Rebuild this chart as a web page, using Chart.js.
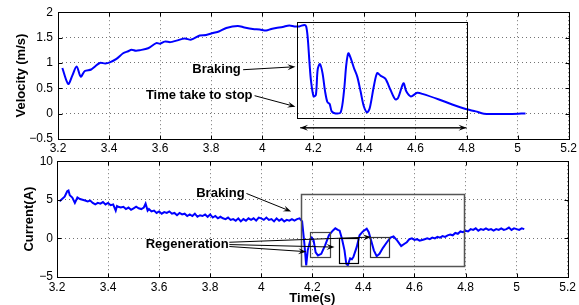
<!DOCTYPE html>
<html>
<head>
<meta charset="utf-8">
<script src="https://cdn.jsdelivr.net/npm/chart.js@4"></script>
<style>
  html, body { margin: 0; padding: 0; background: #fff; overflow: hidden; }
  #wrap { position: relative; width: 579px; height: 305px; }
  canvas { position: absolute; left: 0; }
  #velocityCanvas { top: 0; }
  #currentCanvas { top: 150px; }
</style>
</head>
<body>
<div id="wrap">
  <canvas id="velocityCanvas" width="579" height="160"></canvas>
  <canvas id="currentCanvas" width="579" height="155"></canvas>
</div>
<script>
// tick values
const timeTicks = [3.2, 3.4, 3.6, 3.8, 4, 4.2, 4.4, 4.6, 4.8, 5, 5.2];
const velocityTicks = [-0.5, 0, 0.5, 1, 1.5, 2];
const currentTicks = [-5, 0, 5, 10];

// velocity trace (s, m/s)
const velocityTime = [
  3.217, 3.240, 3.256, 3.273, 3.289, 3.305, 3.33, 3.345, 3.364, 3.385,
  3.403, 3.429, 3.455, 3.475, 3.488, 3.505, 3.52, 3.553, 3.585, 3.60,
  3.618, 3.64, 3.664, 3.696, 3.722, 3.755, 3.78, 3.807, 3.83, 3.859,
  3.904, 3.93, 3.963, 3.99, 4.015, 4.035, 4.054, 4.08, 4.106, 4.126,
  4.145, 4.165, 4.172, 4.178, 4.185, 4.191, 4.201, 4.21, 4.217, 4.226,
  4.236, 4.246, 4.255, 4.264, 4.272, 4.287, 4.307, 4.32, 4.329, 4.337,
  4.346, 4.359, 4.372, 4.385, 4.398, 4.411, 4.421, 4.437, 4.45, 4.463,
  4.482, 4.502, 4.521, 4.532, 4.553, 4.564, 4.582, 4.607, 4.627, 4.692,
  4.744, 4.797, 4.836, 4.868, 4.979, 5.031
];
const velocity = [
  0.90, 0.585, 0.75, 0.93, 0.73, 0.84, 0.87, 0.93, 1.0, 0.99,
  1.01, 1.08, 1.19, 1.23, 1.26, 1.24, 1.25, 1.29, 1.39, 1.38,
  1.42, 1.41, 1.44, 1.48, 1.46, 1.54, 1.55, 1.59, 1.62, 1.69,
  1.73, 1.70, 1.67, 1.66, 1.64, 1.67, 1.69, 1.71, 1.74, 1.72,
  1.72, 1.75, 1.72, 1.50, 1.0, 0.64, 0.34, 0.37, 0.87, 0.98,
  0.80, 0.44, 0.23, 0.19, 0.045, 0.005, 0.025, 0.44, 0.96, 1.19,
  1.10, 0.90, 0.73, 0.44, 0.14, 0.025, 0.11, 0.54, 0.80, 0.75,
  0.69, 0.47, 0.28, 0.31, 0.60, 0.44, 0.34, 0.41, 0.39, 0.28,
  0.18, 0.09, 0.045, 0.0, -0.005, 0.005
];

// motor current trace (s, A)
const currentTime = [
  3.21, 3.22, 3.23, 3.24, 3.245, 3.25, 3.26, 3.27, 3.28, 3.29,
  3.30, 3.31, 3.32, 3.33, 3.34, 3.35, 3.36, 3.37, 3.38, 3.39,
  3.40, 3.41, 3.42, 3.43, 3.435, 3.44, 3.45, 3.46, 3.47, 3.48,
  3.49, 3.50, 3.51, 3.52, 3.53, 3.54, 3.547, 3.555, 3.56, 3.57,
  3.58, 3.59, 3.60, 3.61, 3.62, 3.63, 3.64, 3.65, 3.66, 3.67,
  3.68, 3.69, 3.70, 3.71, 3.72, 3.73, 3.74, 3.75, 3.76, 3.77,
  3.78, 3.79, 3.80, 3.81, 3.82, 3.83, 3.84, 3.85, 3.86, 3.87,
  3.88, 3.89, 3.90, 3.91, 3.92, 3.93, 3.94, 3.95, 3.96, 3.97,
  3.98, 3.99, 4.00, 4.01, 4.02, 4.03, 4.04, 4.05, 4.06, 4.07,
  4.08, 4.09, 4.10, 4.11, 4.12, 4.13, 4.14, 4.15, 4.16, 4.169,
  4.176, 4.182, 4.192, 4.198, 4.205, 4.213, 4.222, 4.235, 4.25, 4.265,
  4.28, 4.29, 4.30, 4.307, 4.316, 4.326, 4.333, 4.339, 4.348, 4.355,
  4.361, 4.374, 4.385, 4.398, 4.413, 4.421, 4.43, 4.441, 4.452, 4.463,
  4.476, 4.492, 4.506, 4.518, 4.532, 4.548, 4.561, 4.57, 4.58, 4.59,
  4.60, 4.61, 4.62, 4.63, 4.64, 4.65, 4.66, 4.67, 4.68, 4.69,
  4.70, 4.71, 4.72, 4.73, 4.74, 4.75, 4.76, 4.77, 4.78, 4.79,
  4.80, 4.81, 4.82, 4.83, 4.84, 4.85, 4.86, 4.87, 4.88, 4.89,
  4.90, 4.91, 4.92, 4.93, 4.94, 4.95, 4.96, 4.97, 4.98, 4.99,
  5.00, 5.01, 5.02, 5.03
];
const current = [
  4.8, 5.1, 5.4, 6.1, 6.2, 5.6, 5.3, 4.6, 5.3, 5.1,
  5.0, 4.9, 4.8, 4.9, 4.6, 4.4, 4.6, 4.5, 4.7, 4.4,
  4.6, 4.3, 4.4, 3.6, 4.2, 4.1, 4.0, 4.1, 3.8, 4.0,
  3.7, 3.9, 4.1, 3.9, 3.8, 4.0, 4.5, 3.6, 3.8, 3.5,
  3.6, 3.3, 3.5, 3.2, 3.4, 3.3, 3.5, 3.2, 3.3, 3.0,
  3.3, 3.1, 3.2, 2.9, 3.1, 2.9, 3.2, 2.8, 3.0, 2.9,
  3.1, 2.8, 3.1, 2.7, 2.9, 2.6, 2.8, 2.6, 2.5, 2.7,
  2.4, 2.5, 2.3, 2.6, 2.2, 2.5, 2.3, 2.6, 2.4, 2.6,
  2.3, 2.7, 2.6, 2.4, 2.7, 2.4, 2.5, 2.2, 2.6, 2.3,
  2.5, 2.2, 2.4, 2.3, 2.5, 2.3, 2.5, 2.6, 2.2, -0.7,
  -3.5, -1.55, -0.25, 0.1, -0.25, -1.8, -2.2, -2.0, -0.9, 0.4,
  1.0, 1.3, 1.1, 1.0, -0.05, -1.55, -3.3, -3.5, -2.6, -2.7,
  -2.4, -1.1, 0.4, 0.9, 1.25, 0.8, -0.25, -1.55, -2.3, -2.0,
  -1.25, -0.5, 0.1, 0.25, -0.25, -1.0, -0.7, -0.5, -0.1, 0.0,
  -0.2, -0.1, -0.3, -0.2, -0.1, 0.0, -0.1, 0.1, 0.0, 0.2,
  0.1, 0.3, 0.2, 0.4, 0.5, 0.4, 0.7, 0.6, 0.9, 0.8,
  1.0, 0.9, 1.2, 1.1, 1.3, 1.0, 1.2, 1.1, 1.3, 1.1,
  1.2, 1.0, 1.2, 1.1, 1.3, 1.1, 1.2, 1.4, 1.1, 1.3,
  1.2, 1.1, 1.3, 1.2
];

const fontFamily = '"Liberation Sans", Arial, Helvetica, sans-serif';
Chart.defaults.font.family = fontFamily;
Chart.defaults.font.size = 12;
Chart.defaults.color = '#000';

// annotations, in data units of each plot
const velocityNotes = {
  boxes: [ { x0: 4.1375, x1: 4.805, y0: -0.08, y1: 1.81, color: '#000', width: 1 } ],
  arrows: [
    { x0: 3.925, y0: 0.866, x1: 4.13, y1: 0.925 },
    { x0: 3.97, y0: 0.354, x1: 4.13, y1: 0.138 },
    { x0: 4.148, y0: -0.28, x1: 4.80, y1: -0.28, both: true }
  ],
  labels: [
    { text: 'Braking', x: 3.821, y: 0.866, align: 'center' },
    { text: 'Time take to stop', x: 3.962, y: 0.354, align: 'right' }
  ]
};
const currentNotes = {
  boxes: [
    { x0: 4.154, x1: 4.792, y0: -3.62, y1: 5.69, color: '#555', width: 1.5 },
    { x0: 4.192, x1: 4.27, y0: -2.46, y1: 0.815, color: '#444', width: 1.2 },
    { x0: 4.304, x1: 4.38, y0: -3.2, y1: 0.09, color: '#000', width: 1.2 },
    { x0: 4.424, x1: 4.50, y0: -2.33, y1: 0.22, color: '#333', width: 1.2 }
  ],
  arrows: [
    { x0: 3.942, y0: 5.82, x1: 4.117, y1: 3.49 },
    { x0: 3.875, y0: -1.05, x1: 4.176, y1: -1.72 },
    { x0: 3.875, y0: -0.8, x1: 4.287, y1: -1.13 },
    { x0: 3.875, y0: -0.5, x1: 4.43, y1: 0.17 }
  ],
  labels: [
    { text: 'Braking', x: 3.840, y: 5.82, align: 'center' },
    { text: 'Regeneration', x: 3.71, y: -0.82, align: 'center' }
  ]
};

// black box round the axes with MATLAB style inward ticks
const framePlugin = {
  id: 'frame',
  afterDatasetsDraw(chart) {
    const { ctx, chartArea: a, scales: { x, y } } = chart;
    const l = Math.round(a.left) + 0.5, r = Math.round(a.right) + 0.5;
    const t = Math.round(a.top) + 0.5, b = Math.round(a.bottom) + 0.5;
    ctx.save();
    ctx.strokeStyle = '#000';
    ctx.lineWidth = 1;
    ctx.strokeRect(l, t, r - l, b - t);
    ctx.beginPath();
    x.ticks.forEach(tk => {
      const px = Math.round(x.getPixelForValue(tk.value)) + 0.5;
      ctx.moveTo(px, b); ctx.lineTo(px, b - 4);
      ctx.moveTo(px, t); ctx.lineTo(px, t + 4);
    });
    y.ticks.forEach(tk => {
      const py = Math.round(y.getPixelForValue(tk.value)) + 0.5;
      ctx.moveTo(l, py); ctx.lineTo(l + 4, py);
      ctx.moveTo(r, py); ctx.lineTo(r - 4, py);
    });
    ctx.stroke();
    ctx.restore();
  }
};

function notesPlugin(notes) {
  return {
    id: 'notes',
    afterDraw(chart) {
      const { ctx, scales: { x, y } } = chart;
      const px = v => x.getPixelForValue(v);
      const py = v => y.getPixelForValue(v);
      ctx.save();
      notes.boxes.forEach(bx => {
        ctx.strokeStyle = bx.color;
        ctx.lineWidth = bx.width;
        ctx.strokeRect(Math.round(px(bx.x0)) + 0.5, Math.round(py(bx.y1)) + 0.5,
          Math.round(px(bx.x1) - px(bx.x0)), Math.round(py(bx.y0) - py(bx.y1)));
      });
      notes.arrows.forEach(ar => {
        drawArrow(ctx, px(ar.x0), py(ar.y0), px(ar.x1), py(ar.y1));
        if (ar.both) drawArrow(ctx, px(ar.x1), py(ar.y1), px(ar.x0), py(ar.y0));
      });
      ctx.font = 'bold 13px ' + fontFamily;
      ctx.fillStyle = '#000';
      ctx.textBaseline = 'middle';
      notes.labels.forEach(lb => {
        ctx.textAlign = lb.align;
        ctx.fillText(lb.text, px(lb.x), py(lb.y));
      });
      ctx.restore();
    }
  };
}

function drawArrow(ctx, x0, y0, x1, y1) {
  const ang = Math.atan2(y1 - y0, x1 - x0);
  const len = 8, half = 3;
  ctx.strokeStyle = '#000';
  ctx.fillStyle = '#000';
  ctx.lineWidth = 1;
  ctx.beginPath();
  ctx.moveTo(x0, y0);
  ctx.lineTo(x1 - Math.cos(ang) * len * 0.6, y1 - Math.sin(ang) * len * 0.6);
  ctx.stroke();
  ctx.beginPath();
  ctx.moveTo(x1, y1);
  ctx.lineTo(x1 - Math.cos(ang) * len - Math.sin(ang) * half, y1 - Math.sin(ang) * len + Math.cos(ang) * half);
  ctx.lineTo(x1 - Math.cos(ang) * len * 0.6, y1 - Math.sin(ang) * len * 0.6);
  ctx.lineTo(x1 - Math.cos(ang) * len + Math.sin(ang) * half, y1 - Math.sin(ang) * len - Math.cos(ang) * half);
  ctx.closePath();
  ctx.fill();
}

function tickLabel(v) {
  const s = String(+v.toFixed(2));
  return s.replace('-', '\u2212');
}

function toPoints(xs, ys) {
  return xs.map((x, i) => ({ x: x, y: ys[i] }));
}

function makeChart(canvasId, cfg) {
  const gridStyle = { color: 'rgba(0,0,0,0.55)', lineWidth: 1, drawTicks: false, borderDash: [1, 3] };
  const borderStyle = { display: false, dash: [1, 3] };
  return new Chart(document.getElementById(canvasId), {
    type: 'scatter',
    data: {
      datasets: [{
        data: toPoints(cfg.xs, cfg.ys),
        showLine: true,
        borderColor: '#0000ff',
        borderWidth: 2,
        pointRadius: 0,
        tension: cfg.tension,
      }]
    },
    options: {
      responsive: false,
      animation: false,
      devicePixelRatio: 1,
      layout: { padding: cfg.padding },
      plugins: { legend: { display: false }, tooltip: { enabled: false } },
      scales: {
        x: {
          type: 'linear',
          min: 3.2, max: 5.2,
          afterBuildTicks: s => { s.ticks = timeTicks.map(v => ({ value: v })); },
          afterFit: s => { s.height = cfg.xHeight; },
          ticks: { callback: tickLabel, padding: cfg.xTickPad, maxRotation: 0, autoSkip: false },
          grid: gridStyle,
          border: borderStyle,
          title: {
            display: !!cfg.xTitle,
            text: cfg.xTitle || '',
            font: { size: 13, weight: 'bold', lineHeight: 1 },
            padding: { top: 0, bottom: 0 }
          }
        },
        y: {
          type: 'linear',
          min: cfg.yTicks[0], max: cfg.yTicks[cfg.yTicks.length - 1],
          afterBuildTicks: s => { s.ticks = cfg.yTicks.map(v => ({ value: v })); },
          afterFit: s => { s.width = cfg.yWidth; },
          ticks: { callback: tickLabel, padding: cfg.yTickPad, autoSkip: false },
          grid: gridStyle,
          border: borderStyle,
          title: {
            display: true,
            text: cfg.yTitle,
            font: { size: 13, weight: 'bold', lineHeight: 1 },
            padding: { top: cfg.yTitlePad, bottom: 0 }
          }
        }
      }
    },
    plugins: [framePlugin, notesPlugin(cfg.notes)]
  });
}

let velocityChart = makeChart('velocityCanvas', {
  xs: velocityTime, ys: velocity, tension: 0.3,
  yTicks: velocityTicks, yTitle: 'Velocity (m/s)', yTitlePad: 14.5,
  padding: { top: 12, right: 8, left: 0, bottom: 0 },
  yWidth: 58, xHeight: 21, xTickPad: 2, yTickPad: 5,
  notes: velocityNotes
});

let currentChart = makeChart('currentCanvas', {
  xs: currentTime, ys: current, tension: 0,
  yTicks: currentTicks, yTitle: 'Current(A)', yTitlePad: 22.5,
  padding: { top: 11, right: 11, left: 0, bottom: 0 },
  yWidth: 57, xHeight: 28, xTickPad: 3, yTickPad: 4,
  xTitle: 'Time(s)',
  notes: currentNotes
});
</script>
</body>
</html>
